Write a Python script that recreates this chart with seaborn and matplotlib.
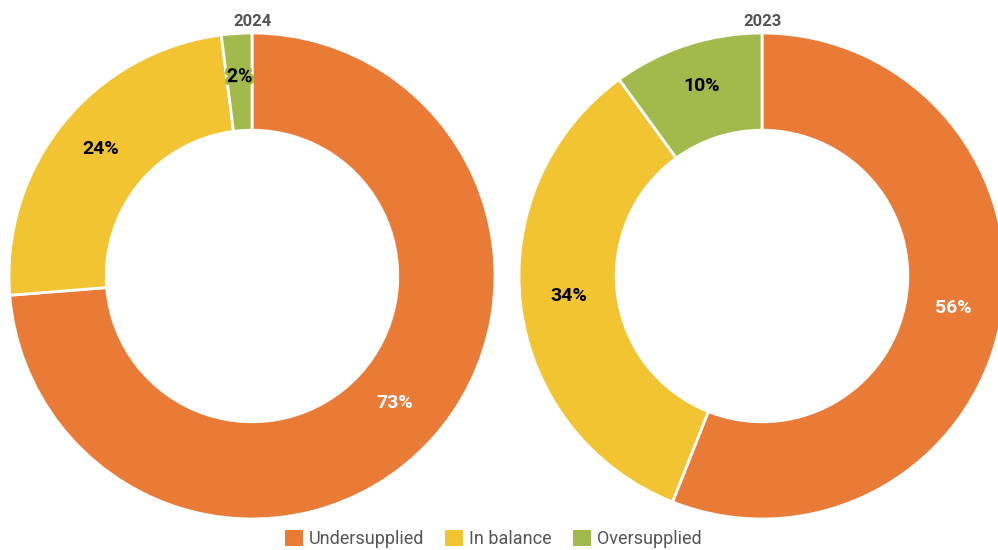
import numpy as np
import pandas as pd
import seaborn as sns
import matplotlib.pyplot as plt
import matplotlib.patheffects as pe
from matplotlib.patches import Patch

# share of markets by supply status
categories = ['Undersupplied', 'In balance', 'Oversupplied']
years = ['2024', '2023']
values_2024 = [73, 24, 2]
values_2023 = [56, 34, 10]

sns.set_theme(style='white')
plt.rcParams['font.family'] = ['Roboto', 'DejaVu Sans']

colors = ['#E97B36', '#F2C431', '#A2B94B']
text_colors = ['white', 'black', 'black']

fig = plt.figure(figsize=(9.98, 5.5), dpi=100)
ax1 = fig.add_axes([9 / 998, 31 / 550, 486 / 998, 486 / 550])
ax2 = fig.add_axes([519 / 998, 31 / 550, 486 / 998, 486 / 550])

for ax, year, vals in [(ax1, years[0], values_2024), (ax2, years[1], values_2023)]:
    total = sum(vals)
    wedges, _, autotexts = ax.pie(
        vals, colors=colors, startangle=90, counterclock=False,
        radius=1, pctdistance=0.8,
        autopct=lambda p, t=total: f'{round(p * t / 100):.0f}%',
        wedgeprops=dict(width=0.4, edgecolor='white', linewidth=2),
        textprops=dict(fontsize=14, fontweight='bold'))
    for txt, c in zip(autotexts, text_colors):
        txt.set_color(c)
        x, y = txt.get_position()
        txt.set_position((x, y + 0.02))
    if vals[2] < 5:
        autotexts[2].set_path_effects([pe.withStroke(linewidth=4, foreground=colors[2])])
    ax.set_xlim(-1, 1)
    ax.set_ylim(-1, 1)
    ax.set_aspect('equal')
    ax.text(0, 1.018, year, ha='center', va='bottom', fontsize=12,
            fontweight='bold', color='#555555')

handles = [Patch(facecolor=c, edgecolor='none', label=l) for c, l in zip(colors, categories)]
fig.legend(handles=handles, loc='lower center', bbox_to_anchor=(0.494, -0.026), ncol=3,
           frameon=False, fontsize=13, handlelength=1.0, handleheight=1.0,
           handletextpad=0.3, columnspacing=1.2, labelcolor='#555555')

fig.savefig('out.png', dpi=100)
